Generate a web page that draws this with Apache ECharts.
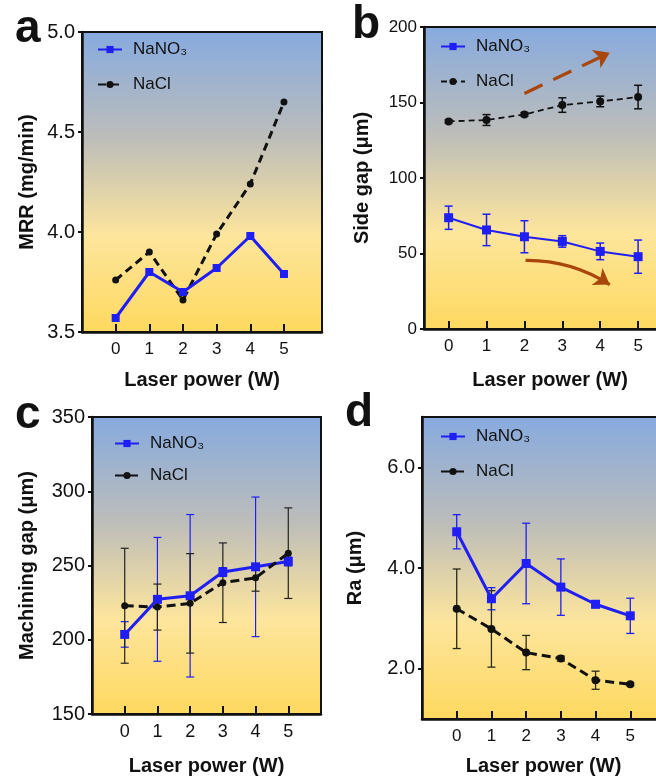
<!DOCTYPE html>
<html>
<head>
<meta charset="utf-8">
<script src="https://cdn.jsdelivr.net/npm/echarts@6/dist/echarts.min.js"></script>
<style>
  body { margin: 0; background: #fff; }
  #chart { width: 656px; height: 781px; }
</style>
</head>
<body>
<div id="chart"></div>
<script>
// laser power levels (W)
const power = [0, 1, 2, 3, 4, 5]

// a: MRR (mg/min)
const mrrNaNO3 = [3.57, 3.80, 3.70, 3.82, 3.98, 3.79]
const mrrNaCl = [3.76, 3.90, 3.66, 3.99, 4.24, 4.65]

// b: side gap (um)
const sideNaNO3 = [73.7, 65.6, 61.1, 58.0, 51.4, 47.9]
const sideNaNO3Err = [7.7, 10.4, 10.6, 3.8, 5.5, 11.0]
const sideNaCl = [137.5, 138.4, 142.1, 148.3, 150.7, 153.6]
const sideNaClErr = [1.0, 3.6, 1.2, 4.8, 3.5, 7.8]

// c: machining gap (um)
const machNaNO3 = [203.6, 227.2, 229.6, 245.6, 249.1, 252.7]
const machNaNO3Err = [8.6, 41.7, 54.7, 3.0, 47.0, 3.0]
const machNaCl = [222.9, 222.0, 224.5, 238.4, 241.7, 258.3]
const machNaClErr = [38.7, 15.5, 33.5, 26.8, 9.0, 30.5]

// d: Ra (um)
const raNaNO3 = [4.72, 3.39, 4.09, 3.62, 3.28, 3.05]
const raNaNO3Err = [0.34, 0.22, 0.80, 0.56, 0.07, 0.35]
const raNaCl = [3.19, 2.79, 2.32, 2.20, 1.77, 1.69]
const raNaClErr = [0.79, 0.76, 0.34, 0.05, 0.18, 0.03]

// trend arrows in b, in data units
const upArrow = [[2.0, 156], [4.25, 183]]
const downArrow = [[2.03, 45.5], [4.25, 29.4]]

const FONT = 'Liberation Sans, Arial, sans-serif'
const BLUE = '#1f1ff5'
const BLACK = '#111'
const BROWN = '#a9460c'

const bg = () => new echarts.graphic.LinearGradient(0, 0, 0, 1, [
  { offset: 0, color: '#86aadf' },
  { offset: 0.35, color: '#bcbdba' },
  { offset: 0.68, color: '#fde59c' },
  { offset: 1, color: '#fed95f' }
])

const pairs = (ys) => power.map((x, i) => [x, ys[i]])
const errPairs = (ys, es) => power.map((x, i) => [x, ys[i], es[i]])

function grid(left, top, width, height) {
  return {
    left: left, top: top, width: width, height: height, outerBoundsMode: 'none',
    show: true, backgroundColor: bg(), borderColor: BLACK, borderWidth: 2
  }
}

function xAxis(idx, min, max, labelSize, gap) {
  return {
    type: 'value', gridIndex: idx, min: min, max: max,
    name: 'Laser power (W)', nameLocation: 'middle', nameGap: gap,
    nameTextStyle: { fontFamily: FONT, fontWeight: 'bold', fontSize: 20, color: BLACK },
    axisLine: { onZero: false, lineStyle: { color: BLACK, width: 2.5 } },
    axisTick: { inside: true, length: 8, customValues: power, lineStyle: { color: BLACK, width: 2 } },
    axisLabel: { customValues: power, fontFamily: FONT, fontSize: labelSize, color: BLACK, margin: 9 },
    splitLine: { show: false }
  }
}

function yAxis(idx, opt) {
  return Object.assign({
    type: 'value', gridIndex: idx, nameLocation: 'middle', nameRotate: 90,
    nameTextStyle: { fontFamily: FONT, fontWeight: 'bold', fontSize: 20, color: BLACK },
    axisLine: { show: true, onZero: false, lineStyle: { color: BLACK, width: 2.5 } },
    axisTick: { show: true, length: 4, lineStyle: { color: BLACK, width: 2 } },
    splitLine: { show: false }
  }, opt)
}

function errSeries(idx, name, data, color, w, cap) {
  return {
    type: 'custom', name: name, xAxisIndex: idx, yAxisIndex: idx,
    silent: true, z: 1,
    data: data,
    renderItem: function (params, api) {
      const x = api.value(0), y = api.value(1), e = api.value(2)
      const top = api.coord([x, y + e])
      const bot = api.coord([x, y - e])
      const style = { stroke: color, lineWidth: w }
      return {
        type: 'group',
        children: [
          { type: 'line', shape: { x1: top[0], y1: top[1], x2: bot[0], y2: bot[1] }, style: style },
          { type: 'line', shape: { x1: top[0] - cap, y1: top[1], x2: top[0] + cap, y2: top[1] }, style: style },
          { type: 'line', shape: { x1: bot[0] - cap, y1: bot[1], x2: bot[0] + cap, y2: bot[1] }, style: style }
        ]
      }
    }
  }
}

function lineSeries(idx, name, data, o) {
  return {
    type: 'line', name: name, xAxisIndex: idx, yAxisIndex: idx,
    data: data, symbol: o.symbol, symbolSize: o.size, z: o.z || 3,
    lineStyle: { color: o.color, width: o.width, type: o.dash || 'solid' },
    itemStyle: { color: o.color },
    emphasis: { disabled: true }
  }
}

function arrowSeries(idx, name, pts, dash, curve) {
  return {
    type: 'lines', name: name, coordinateSystem: 'cartesian2d', xAxisIndex: idx, yAxisIndex: idx,
    silent: true, z: 5,
    symbol: ['none', 'arrow'], symbolSize: [13, 15],
    lineStyle: { color: BROWN, width: 3.2, type: dash, curveness: curve, opacity: 1 },
    data: [{ coords: pts }]
  }
}

function legend(names, left, top, gap) {
  return {
    data: names, left: left, top: top, orient: 'vertical', itemGap: gap,
    itemWidth: 24, itemHeight: 9, selectedMode: false,
    formatter: (n) => n.indexOf('NaNO3') === 0 ? 'NaNO₃' : 'NaCl',
    textStyle: { fontFamily: FONT, fontSize: 17, color: BLACK, padding: [0, 0, 0, 6] }
  }
}

const chart = echarts.init(document.getElementById('chart'))
chart.setOption({
  animation: false,
  backgroundColor: '#fff',
  grid: [
    grid(82, 32, 240, 300),
    grid(424, 27, 252, 302),
    grid(92, 417, 229, 297),
    grid(422, 417, 243, 302)
  ],
  xAxis: [
    xAxis(0, -1, 6.13, 17, 38),
    xAxis(1, -0.65, 6, 17, 41),
    xAxis(2, -1, 6, 18, 42),
    xAxis(3, -1, 6, 17, 37)
  ],
  yAxis: [
    yAxis(0, { min: 3.5, max: 5, interval: 0.5, name: 'MRR (mg/min)', nameGap: 45,
      axisLabel: { fontFamily: FONT, fontSize: 20, color: BLACK, margin: 7, formatter: (v) => v.toFixed(1) } }),
    yAxis(1, { min: 0, max: 200, interval: 50, name: 'Side gap (μm)', nameGap: 52,
      axisLabel: { fontFamily: FONT, fontSize: 17, color: BLACK, margin: 7 } }),
    yAxis(2, { min: 150, max: 350, interval: 50, name: 'Machining gap (μm)', nameGap: 55,
      axisLabel: { fontFamily: FONT, fontSize: 20, color: BLACK, margin: 7 } }),
    yAxis(3, { min: 1, max: 7, name: 'Ra (μm)', nameGap: 57,
      axisTick: { show: true, length: 4, customValues: [2, 4, 6], lineStyle: { color: BLACK, width: 2 } },
      axisLabel: { customValues: [2, 4, 6], fontFamily: FONT, fontSize: 20, color: BLACK, margin: 7, formatter: (v) => v.toFixed(1) } })
  ],
  legend: [
    legend(['NaNO3_a', 'NaCl_a'], 92, 36, 18),
    legend(['NaNO3_b', 'NaCl_b'], 435, 33, 18),
    legend(['NaNO3_c', 'NaCl_c'], 109, 430, 15),
    legend(['NaNO3_d', 'NaCl_d'], 435, 423, 18)
  ],
  series: [
    lineSeries(0, 'NaNO3_a', pairs(mrrNaNO3), { color: BLUE, width: 3, symbol: 'rect', size: 8 }),
    lineSeries(0, 'NaCl_a', pairs(mrrNaCl), { color: BLACK, width: 3, dash: [8, 5], symbol: 'circle', size: 7, z: 2 }),

    errSeries(1, 'errNaNO3_b', errPairs(sideNaNO3, sideNaNO3Err), BLUE, 1.5, 4),
    errSeries(1, 'errNaCl_b', errPairs(sideNaCl, sideNaClErr), BLACK, 1.5, 4),
    lineSeries(1, 'NaNO3_b', pairs(sideNaNO3), { color: BLUE, width: 2, symbol: 'rect', size: 9 }),
    lineSeries(1, 'NaCl_b', pairs(sideNaCl), { color: BLACK, width: 1.8, dash: [6, 4], symbol: 'circle', size: 8 }),
    arrowSeries(1, 'arrowDown', downArrow, 'solid', 0.15),
    arrowSeries(1, 'arrowUp', upArrow, [20, 12], 0),

    errSeries(2, 'errNaNO3_c', errPairs(machNaNO3, machNaNO3Err), BLUE, 1.2, 4),
    errSeries(2, 'errNaCl_c', errPairs(machNaCl, machNaClErr), '#222', 1.2, 4),
    lineSeries(2, 'NaNO3_c', pairs(machNaNO3), { color: BLUE, width: 3, symbol: 'rect', size: 9 }),
    lineSeries(2, 'NaCl_c', pairs(machNaCl), { color: BLACK, width: 3, dash: [9, 5], symbol: 'circle', size: 7, z: 4 }),

    errSeries(3, 'errNaNO3_d', errPairs(raNaNO3, raNaNO3Err), BLUE, 1.3, 4),
    errSeries(3, 'errNaCl_d', errPairs(raNaCl, raNaClErr), '#2a2a1a', 1.3, 4),
    lineSeries(3, 'NaNO3_d', pairs(raNaNO3), { color: BLUE, width: 3, symbol: 'rect', size: 9 }),
    lineSeries(3, 'NaCl_d', pairs(raNaCl), { color: BLACK, width: 3, dash: [9, 5], symbol: 'circle', size: 8 })
  ],
  graphic: [
    { type: 'text', left: 15, top: 6, style: { text: 'a', font: 'bold 46px ' + FONT, fill: BLACK } },
    { type: 'text', left: 352, top: 2, style: { text: 'b', font: 'bold 46px ' + FONT, fill: BLACK } },
    { type: 'text', left: 15, top: 392, style: { text: 'c', font: 'bold 46px ' + FONT, fill: BLACK } },
    { type: 'text', left: 345, top: 390, style: { text: 'd', font: 'bold 46px ' + FONT, fill: BLACK } }
  ]
})
</script>
</body>
</html>
